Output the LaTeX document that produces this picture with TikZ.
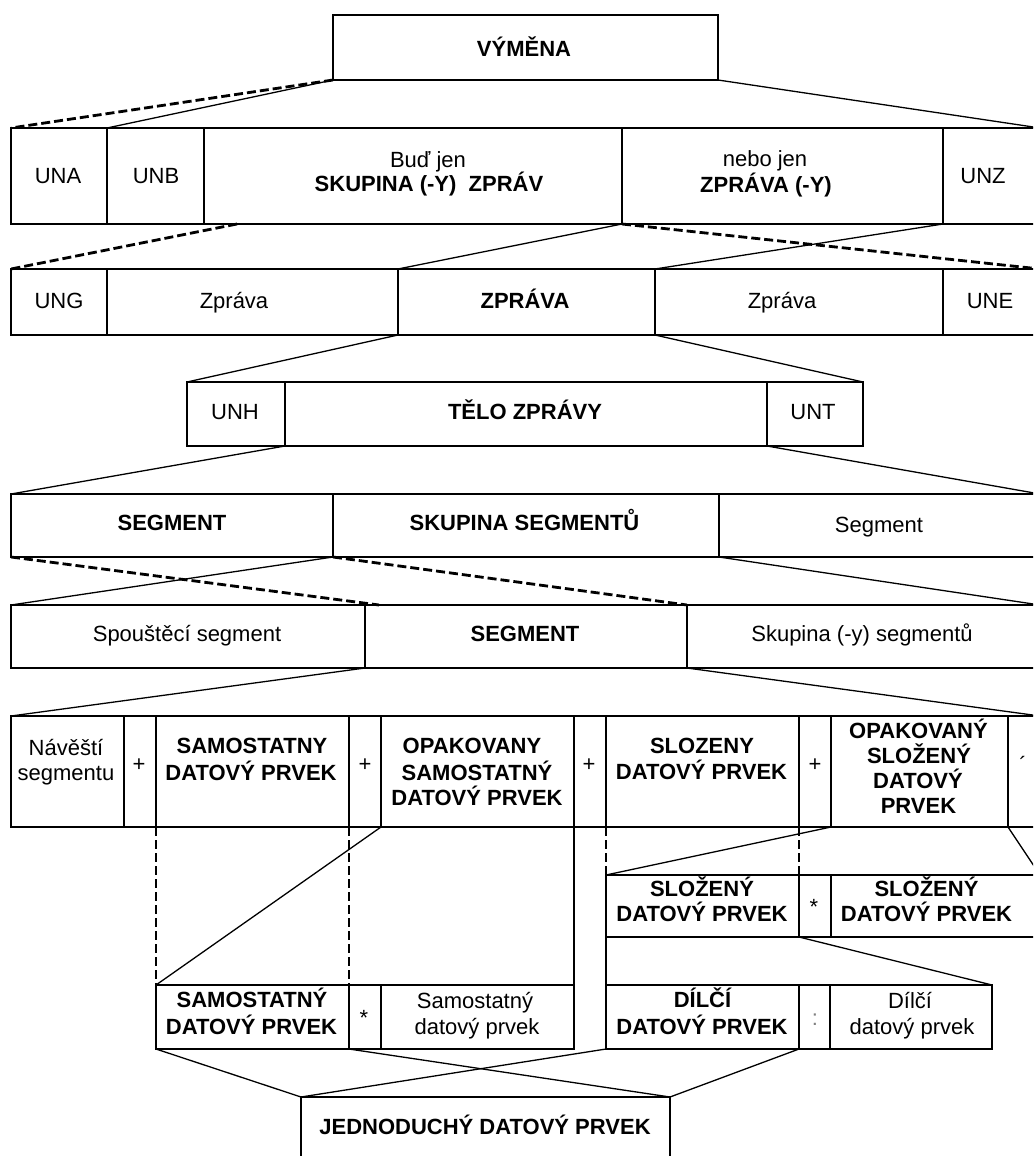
\documentclass[tikz,border=0pt]{standalone}
\usepackage{fontspec}
\setmainfont{Liberation Sans}
\usetikzlibrary{calc}
\newcommand\cellbox[5]{\node[cell,minimum width=#4pt,minimum height=#5pt] (#1) at (#2,#3) {};}
\begin{document}
\begin{tikzpicture}[x=1pt,y=-1pt,
  cell/.style={draw,line width=1.4pt,inner sep=0pt,outer sep=0pt,anchor=north west},
  ln/.style={line width=1.3pt},
  dsh/.style={line width=2.8pt,dash pattern=on 9pt off 4pt},
  t/.style={font=\fontsize{22}{26}\selectfont,inner sep=0pt,text height=16pt,text depth=0pt},
  tb/.style={t,font=\fontsize{22}{26}\selectfont\bfseries}]
\useasboundingbox (0,0) rectangle (1033,1156);
\begin{scope}
\clip (0,0) rectangle (1033,1156);
% ---- cells
\cellbox{vym}{333}{15}{385}{65}
\cellbox{una}{11}{128}{96}{96}
\cellbox{unb}{107}{128}{97}{96}
\cellbox{skup}{204}{128}{418}{96}
\cellbox{zpry}{622}{128}{321}{96}
\cellbox{unz}{943}{128}{97}{96}
\cellbox{ung}{11}{269}{96}{66}
\cellbox{zpa}{107}{269}{291}{66}
\cellbox{zpr}{398}{269}{257}{66}
\cellbox{zpb}{655}{269}{288}{66}
\cellbox{une}{943}{269}{97}{66}
\cellbox{unh}{187}{382}{98}{64}
\cellbox{telo}{285}{382}{482}{64}
\cellbox{unt}{767}{382}{96}{64}
\cellbox{sega}{11}{494}{322}{63}
\cellbox{skseg}{333}{494}{386}{63}
\cellbox{segb}{719}{494}{321}{63}
\cellbox{spou}{11}{605}{354}{63}
\cellbox{segc}{365}{605}{322}{63}
\cellbox{skupy}{687}{605}{353}{63}
\cellbox{nav}{11}{716}{113}{111}
\cellbox{pa}{124}{716}{32}{111}
\cellbox{sam}{156}{716}{193}{111}
\cellbox{pb}{349}{716}{32}{111}
\cellbox{opsam}{381}{716}{193}{111}
\cellbox{pc}{574}{716}{32}{111}
\cellbox{slo}{606}{716}{193}{111}
\cellbox{pd}{799}{716}{32}{111}
\cellbox{opslo}{831}{716}{177}{111}
\cellbox{lst}{1008}{716}{32}{111}
\cellbox{slob}{606}{875}{193}{62}
\cellbox{astb}{799}{875}{32}{62}
\cellbox{slor}{831}{875}{209}{62}
\cellbox{samb}{156}{985}{193}{64}
\cellbox{asta}{349}{985}{32}{64}
\cellbox{samr}{381}{985}{193}{64}
\cellbox{dil}{606}{985}{193}{64}
\cellbox{col}{799}{985}{31}{64}
\cellbox{dilr}{830}{985}{162}{64}
\cellbox{jed}{301}{1097}{369}{70}
% ---- connectors
\draw[dsh] (vym.south west) -- (una.north west);
\draw[ln] (vym.south west) -- (unb.north west);
\draw[ln] (vym.south east) -- (unz.north east);
\coordinate (skupA) at ([xshift=33pt]skup.south west);
\draw[dsh] (skupA) -- (ung.north west);
\draw[dsh] (skup.south east) -- (une.north east);
\draw[ln] (zpry.south west) -- (zpr.north west);
\draw[ln] (zpry.south east) -- (zpr.north east);
\draw[ln] (zpr.south west) -- (unh.north west);
\draw[ln] (zpr.south east) -- (unt.north east);
\draw[ln] (telo.south west) -- (sega.north west);
\draw[ln] (telo.south east) -- (segb.north east);
\coordinate (segcA) at ([xshift=14pt]segc.north west);
\draw[dsh] (sega.south west) -- (segcA);
\draw[dsh] (sega.south east) -- (segc.north east);
\draw[ln] (skseg.south west) -- (spou.north west);
\draw[ln] (skseg.south east) -- (skupy.north east);
\draw[ln] (segc.south west) -- (nav.north west);
\draw[ln] (segc.south east) -- (lst.north east);
\draw[dsh] (sam.south west) -- (samb.north west);
\draw[dsh] (sam.south east) -- (samb.north east);
\draw[ln] (opsam.south west) -- (samb.north west);
\draw[ln] (opsam.south east) -- (samr.north east);
\draw[dsh] (slo.south west) -- (slob.north west);
\draw[dsh] (slo.south east) -- (slob.north east);
\draw[ln] (opslo.south west) -- (slob.north west);
\draw[ln] (opslo.south east) -- (slor.north east);
\draw[ln] (slob.south west) -- (dil.north west);
\draw[ln] (slob.south east) -- (dilr.north east);
\draw[ln] (samb.south west) -- (jed.north west);
\draw[ln] (samb.south east) -- (jed.north east);
\draw[ln] (dil.south west) -- (jed.north west);
\draw[ln] (dil.south east) -- (jed.north east);
% ---- texts
\node[tb] (t1) at (524,48.5) {VÝMĚNA};
\node[t] (t2) at (58,175) {UNA};
\node[t] (t3) at (156,175) {UNB};
\node[t] (t4) at (428,159) {Buď jen};
\node[tb] (t5) at (429,183.5) {SKUPINA (-Y)\ \ ZPRÁV};
\node[t] (t6) at (765,158) {nebo jen};
\node[tb] (t7) at (766,184) {ZPRÁVA (-Y)};
\node[t] (t8) at (983,175) {UNZ};
\node[t] (t9) at (59,300) {UNG};
\node[t] (t10) at (234,300) {Zpráva};
\node[tb] (t11) at (525,300) {ZPRÁVA};
\node[t] (t12) at (782,300) {Zpráva};
\node[t] (t13) at (990,300) {UNE};
\node[t] (t14) at (235,411) {UNH};
\node[tb] (t15) at (525,411) {TĚLO ZPRÁVY};
\node[t] (t16) at (813,411) {UNT};
\node[tb] (t17) at (172,522) {SEGMENT};
\node[tb] (t18) at (524.5,522) {SKUPINA SEGMENTŮ};
\node[t] (t19) at (879,524) {Segment};
\node[t] (t20) at (187,633) {Spouštěcí segment};
\node[tb] (t21) at (525,633) {SEGMENT};
\node[t] (t22) at (862,633) {Skupina (-y) segmentů};
\node[t] (t23) at (66,747) {Návěští};
\node[t] (t24) at (66,772) {segmentu};
\node[t] (t25) at (139,763) {+};
\node[tb] (t26) at (252,745) {SAMOSTATNY};
\node[tb] (t27) at (251,772) {DATOVÝ PRVEK};
\node[t] (t28) at (365,763) {+};
\node[tb] (t29) at (472,745) {OPAKOVANY};
\node[tb] (t30) at (477,772) {SAMOSTATNÝ};
\node[tb] (t31) at (477,797.5) {DATOVÝ PRVEK};
\node[t] (t32) at (589,763) {+};
\node[tb] (t33) at (702,745) {SLOZENY};
\node[tb] (t34) at (701.5,771.5) {DATOVÝ PRVEK};
\node[t] (t35) at (815,763) {+};
\node[tb] (t36) at (918.5,730) {OPAKOVANÝ};
\node[tb] (t37) at (919,755) {SLOŽENÝ};
\node[tb] (t38) at (918,780) {DATOVÝ};
\node[tb] (t39) at (918.5,805) {PRVEK};
\node[t] (t40) at (1023,764) {´};
\node[tb] (t41) at (702,888.5) {SLOŽENÝ};
\node[tb] (t42) at (702,913.5) {DATOVÝ PRVEK};
\node[t] (t43) at (814,906) {*};
\node[tb] (t44) at (926.5,888.5) {SLOŽENÝ};
\node[tb] (t45) at (926.5,913.5) {DATOVÝ PRVEK};
\node[tb] (t46) at (252,999.5) {SAMOSTATNÝ};
\node[tb] (t47) at (251.5,1026) {DATOVÝ PRVEK};
\node[t] (t48) at (364,1017) {*};
\node[t] (t49) at (475,1000) {Samostatný};
\node[t] (t50) at (477,1026) {datový prvek};
\node[tb] (t51) at (702.5,999.5) {DÍLČÍ};
\node[tb] (t52) at (702,1026.5) {DATOVÝ PRVEK};
\node[t,text=gray] (t53) at (815,1017) {:};
\node[t] (t54) at (910,1000) {Dílčí};
\node[t] (t55) at (912,1026) {datový prvek};
\node[tb] (t56) at (485,1126.5) {JEDNODUCHÝ DATOVÝ PRVEK};
\end{scope}
\end{tikzpicture}
\end{document}
